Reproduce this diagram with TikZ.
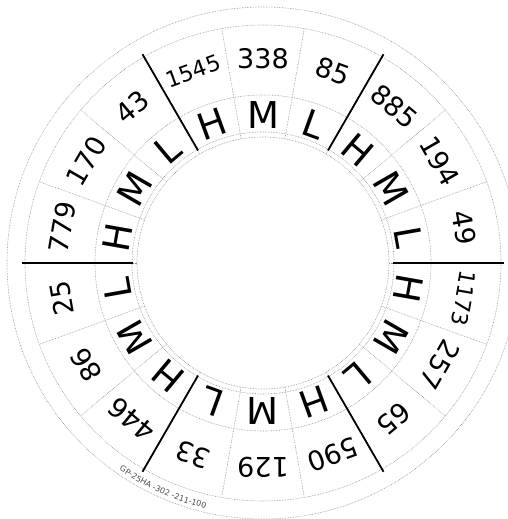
\documentclass[tikz,border=0pt]{standalone}
\usepackage{fontspec}
\setmainfont{DejaVu Sans}
\usetikzlibrary{decorations.text}
\begin{document}
\begin{tikzpicture}[x=1pt,y=1pt,
  faint/.style={densely dotted, black!45, line width=0.6pt},
  divider/.style={black, line width=1.8pt},
  letterlbl/.style={inner sep=0pt, font=\fontsize{37}{40}\selectfont},
  numlbl/.style={inner sep=0pt}]
\useasboundingbox (0,0) rectangle (507,519);
\begin{scope}[shift={(263,256)}]
  % rings
  \draw[faint] (0,0) circle (126);
  \draw[faint] (0,0) circle (131);
  \draw[faint] (0,0) circle (168);
  \draw[faint] (0,0) circle (238);
  \draw[faint] (0,0) circle (256);
  % sub-sector separators
  \foreach \b in {0,20,...,340} {
    \coordinate (sa\b) at (\b:126);
    \coordinate (sb\b) at (\b:238);
    \draw[faint] (sa\b) -- (sb\b);
  }
  % sector dividers
  \foreach \b in {0,60,...,300} {
    \coordinate (da\b) at (\b:130);
    \coordinate (db\b) at (\b:241);
    \draw[divider] (da\b) -- (db\b);
  }
  % labels
  \foreach \a/\l/\n/\s [count=\i] in {
     110/H/1545/22, 90/M/338/27, 70/L/85/27,
     50/H/885/27, 30/M/194/27, 10/L/49/27,
     -10/H/1173/22, -30/M/257/27, -50/L/65/27,
     -70/H/590/27, -90/M/129/27, -110/L/33/27,
     -130/H/446/27, -150/M/86/27, -170/L/25/27,
     170/H/779/27, 150/M/170/27, 130/L/43/27} {
    \node[letterlbl, rotate=\a-90] (l\i) at (\a:148) {\l};
    \node[numlbl, rotate=\a-90, font=\fontsize{\s}{\s}\selectfont] (n\i) at (\a:204) {\n};
  }
  % small code along the rim
  \coordinate (codeA) at (-130:252);
  \path[decorate, decoration={text along path,
      text={|\color{black!70}\fontsize{8}{9}\selectfont|GP-25HA -302 -211-100},
      text align=center}]
    (codeA) arc (-130:-98:252);
\end{scope}
\end{tikzpicture}
\end{document}
